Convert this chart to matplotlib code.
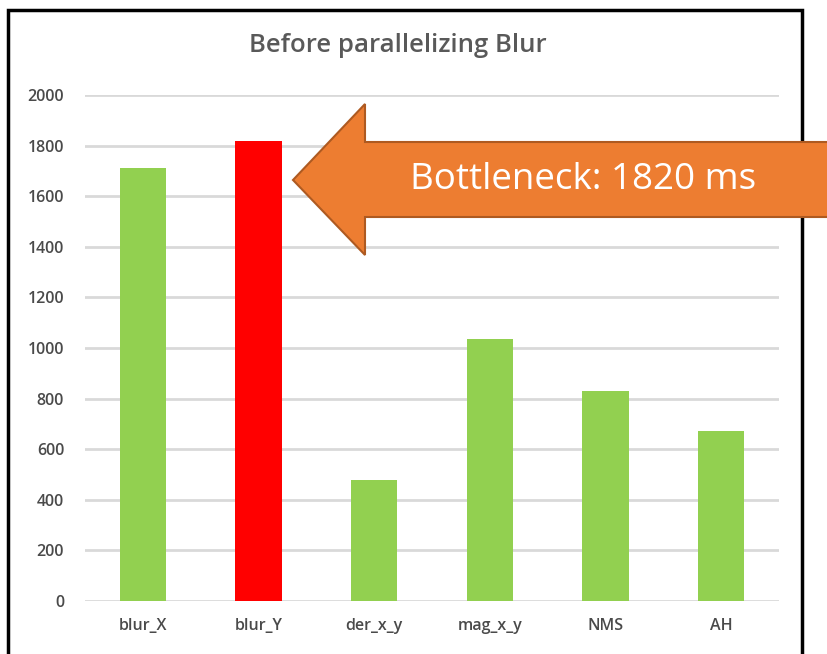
import matplotlib
matplotlib.use("Agg")
import matplotlib.pyplot as plt
from matplotlib.patches import Polygon, Rectangle

categories = ["blur_X", "blur_Y", "der_x_y", "mag_x_y", "NMS", "AH"]
values = [1710, 1820, 480, 1035, 830, 670]
highlight = "blur_Y"
yticks = [0, 200, 400, 600, 800, 1000, 1200, 1400, 1600, 1800, 2000]
title = "Before parallelizing Blur"
callout = "Bottleneck: 1820 ms"

W, H = 827, 654
fig = plt.figure(figsize=(W / 100, H / 100), dpi=100)
fig.patch.set_facecolor("white")

ax = fig.add_axes([85 / W, 53 / H, 694 / W, 506 / H])
colors = ["#FF0000" if c == highlight else "#92D050" for c in categories]
ax.bar(range(len(categories)), values, width=0.4, color=colors, zorder=3)
ax.set_xlim(-0.5, len(categories) - 0.5)
ax.set_ylim(0, 2000)
ax.set_yticks(yticks)
ax.set_yticklabels([str(t) for t in yticks])
ax.set_xticks(range(len(categories)))
ax.set_xticklabels(categories)
ax.grid(axis="y", color="#D9D9D9", linewidth=2, zorder=0)
for s in ax.spines.values():
    s.set_visible(False)
ax.tick_params(axis="both", length=0, labelsize=11.5, labelcolor="#4A4A4A")
ax.tick_params(axis="y", pad=15)
ax.tick_params(axis="x", pad=12)
for lab in ax.get_xticklabels() + ax.get_yticklabels():
    lab.set_fontfamily("Open Sans")
    lab.set_fontweight("semibold")

fig.text(398 / W, 1 - 46 / H, title, ha="center", va="center",
         fontsize=18.5, color="#595959", family="Open Sans", fontweight="semibold")

# outer border
fig.patches.append(Rectangle((8 / W, -0.1), 794 / W, 1.1 - 10 / H,
                             transform=fig.transFigure, fill=False,
                             edgecolor="black", linewidth=2.5, zorder=5))

# callout arrow (pixel coords from top-left)
pts = [(293, 180), (365, 104), (365, 142), (840, 142), (840, 217), (365, 217), (365, 255)]
poly = Polygon([(x / W, 1 - y / H) for x, y in pts], closed=True,
               transform=fig.transFigure, facecolor="#ED7D31",
               edgecolor="#AE5A21", linewidth=1.5, zorder=10)
fig.patches.append(poly)
fig.text(583 / W, 1 - 180 / H, callout, ha="center", va="center",
         fontsize=26.5, color="white", family="Open Sans", zorder=11)

fig.savefig("out.png", dpi=100)
